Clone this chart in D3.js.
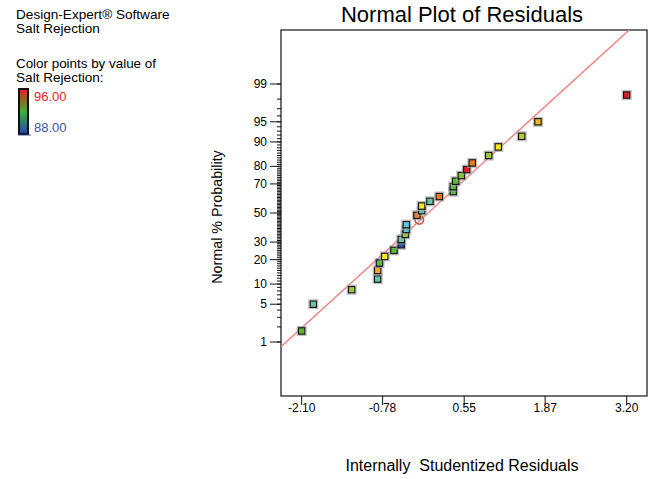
<!DOCTYPE html>
<html>
<head>
<meta charset="utf-8">
<script src="https://cdn.jsdelivr.net/npm/d3@7"></script>
<style>
  body { margin: 0; background: white; }
  text { font-family: "Liberation Sans", Arial, sans-serif; }
</style>
</head>
<body>
<div id="chart"></div>
<script>
// residuals (x) and normal % probability (y) for the 30 runs, ordered by rank
var residuals = [-2.10, -1.91, -1.285, -0.861, -0.861, -0.831, -0.746, -0.595, -0.476, -0.476,
                 -0.41, -0.394, -0.394, -0.182, -0.22, -0.143, -0.143, -0.008, 0.144, 0.372,
                 0.372, 0.411, 0.503, 0.591, 0.682, 0.95, 1.106, 1.488, 1.753, 3.20];
var probabilities = [1.67, 5, 8.33, 11.67, 15, 18.33, 21.67, 25, 28.33, 31.67,
                     35, 38.33, 41.67, 45, 48.33, 51.67, 55, 58.33, 61.67, 65,
                     68.33, 71.67, 75, 78.33, 81.67, 85, 88.33, 91.67, 95, 98.33];
// Salt Rejection value of each run (drives the point colour)
var saltRejection = [91.3, 90.0, 92.3, 90.0, 94.5, 91.3, 93.5, 91.3, 88.0, 90.0,
                     92.3, 89.4, 89.4, 95.5, 95.0, 90.0, 93.5, 90.0, 95.0, 91.2,
                     91.2, 91.3, 92.0, 96.0, 95.0, 92.4, 93.5, 92.6, 94.3, 96.0];
var circledPoint = 13;   // this run is drawn as a hollow circle

var xTicks = [-2.10, -0.78, 0.55, 1.87, 3.20];
var yMajorTicks = [1, 5, 10, 20, 30, 50, 70, 80, 90, 95, 99];
var yMinorTicks = d3.range(1, 100);
var refLine = { mean: -0.04, sd: 0.994 };
var colorMin = 88.00, colorMax = 96.00;

// inverse normal cdf (Acklam)
function probit(p) {
  var a = [-3.969683028665376e+01, 2.209460984245205e+02, -2.759285104469687e+02, 1.383577518672690e+02, -3.066479806614716e+01, 2.506628277459239e+00];
  var b = [-5.447609879822406e+01, 1.615858368580409e+02, -1.556989798598866e+02, 6.680131188771972e+01, -1.328068155288572e+01];
  var c = [-7.784894002430293e-03, -3.223964580411365e-01, -2.400758277161838e+00, -2.549732539343734e+00, 4.374664141464968e+00, 2.938163982698783e+00];
  var d = [7.784695709041462e-03, 3.224671290700398e-01, 2.445134137142996e+00, 3.754408661907416e+00];
  var q, r;
  if (p < 0.02425) {
    q = Math.sqrt(-2 * Math.log(p));
    return (((((c[0]*q+c[1])*q+c[2])*q+c[3])*q+c[4])*q+c[5]) / ((((d[0]*q+d[1])*q+d[2])*q+d[3])*q+1);
  }
  if (p <= 1 - 0.02425) {
    q = p - 0.5; r = q * q;
    return (((((a[0]*r+a[1])*r+a[2])*r+a[3])*r+a[4])*r+a[5])*q / (((((b[0]*r+b[1])*r+b[2])*r+b[3])*r+b[4])*r+1);
  }
  q = Math.sqrt(-2 * Math.log(1 - p));
  return -(((((c[0]*q+c[1])*q+c[2])*q+c[3])*q+c[4])*q+c[5]) / ((((d[0]*q+d[1])*q+d[2])*q+d[3])*q+1);
}

var w = 649, h = 479;
var box = { left: 281, top: 30, right: 647, bottom: 396 };

var svg = d3.select("#chart")
    .append("svg")
    .attr("width", w)
    .attr("height", h);

var x = d3.scaleLinear().domain([-2.437, 3.531]).range([box.left, box.right]);
var z = d3.scaleLinear().domain([-3.3, 3.3]).range([box.bottom, box.top]);
var y = function(p) { return z(probit(p / 100)); };

var color = d3.scaleLinear()
    .domain([88, 89.4, 90, 91.3, 92.4, 93.5, 94.4, 95, 96])
    .range(["#2d4b9f", "#5cc4e2", "#68c3a8", "#5cb83a", "#a2c93a", "#f6e71c", "#f4b11c", "#f07a20", "#e21f26"]);

// header text
svg.append("text").attr("x", 16).attr("y", 19).style("font-size", "13.6px").text("Design-Expert\u00AE Software");
svg.append("text").attr("x", 16).attr("y", 33).style("font-size", "13.6px").text("Salt Rejection");
svg.append("text").attr("x", 16).attr("y", 68).style("font-size", "13.4px").text("Color points by value of");
svg.append("text").attr("x", 16).attr("y", 82).style("font-size", "13.6px").text("Salt Rejection:");

// colour bar
var grad = svg.append("defs").append("linearGradient")
    .attr("id", "bar").attr("x1", 0).attr("y1", 0).attr("x2", 0).attr("y2", 1);
grad.append("stop").attr("offset", "0%").attr("stop-color", "#e3201c");
grad.append("stop").attr("offset", "50%").attr("stop-color", "#3fae36");
grad.append("stop").attr("offset", "100%").attr("stop-color", "#2244b4");
svg.append("rect").attr("x", 19).attr("y", 89).attr("width", 9).attr("height", 45)
    .attr("fill", "url(#bar)").attr("stroke", "#111").attr("stroke-width", 2);
svg.append("line").attr("x1", 18).attr("x2", 31).attr("y1", 135).attr("y2", 135)
    .attr("stroke", "#3a56a6").attr("stroke-width", 1);
svg.append("text").attr("x", 34).attr("y", 101).style("font-size", "13px").attr("fill", "#e8262a").text(colorMax.toFixed(2));
svg.append("text").attr("x", 34).attr("y", 132).style("font-size", "13px").attr("fill", "#3a56a6").text(colorMin.toFixed(2));

// title
svg.append("text").attr("x", 462).attr("y", 22).attr("text-anchor", "middle")
    .style("font-size", "22px").text("Normal Plot of Residuals");

// frame
svg.append("rect")
    .attr("x", box.left).attr("y", box.top)
    .attr("width", box.right - box.left).attr("height", box.bottom - box.top)
    .attr("fill", "none").attr("stroke", "#111").attr("stroke-width", 1.2);

// y ticks
svg.selectAll("line.minor")
    .data(yMinorTicks)
    .enter()
    .append("line")
    .attr("class", "minor")
    .attr("x1", box.left - 4).attr("x2", box.left)
    .attr("y1", function(d) { return y(d); })
    .attr("y2", function(d) { return y(d); })
    .attr("stroke", "#111").attr("stroke-width", 1);

svg.selectAll("line.major")
    .data(yMajorTicks)
    .enter()
    .append("line")
    .attr("class", "major")
    .attr("x1", box.left - 11).attr("x2", box.left)
    .attr("y1", function(d) { return y(d); })
    .attr("y2", function(d) { return y(d); })
    .attr("stroke", "#111").attr("stroke-width", 1);

svg.selectAll("text.ylab")
    .data(yMajorTicks)
    .enter()
    .append("text")
    .attr("class", "ylab")
    .attr("x", box.left - 14)
    .attr("y", function(d) { return y(d) + 4; })
    .attr("text-anchor", "end")
    .style("font-size", "12px")
    .text(function(d) { return d; });

// x ticks
svg.selectAll("line.xtick")
    .data(xTicks)
    .enter()
    .append("line")
    .attr("class", "xtick")
    .attr("x1", function(d) { return x(d); })
    .attr("x2", function(d) { return x(d); })
    .attr("y1", box.bottom).attr("y2", box.bottom + 9)
    .attr("stroke", "#111").attr("stroke-width", 1);

svg.selectAll("text.xlab")
    .data(xTicks)
    .enter()
    .append("text")
    .attr("class", "xlab")
    .attr("x", function(d) { return x(d); })
    .attr("y", 412)
    .attr("text-anchor", "middle")
    .style("font-size", "12px")
    .text(function(d) { return d.toFixed(2); });

// axis titles
svg.append("text").attr("x", 462).attr("y", 471).attr("text-anchor", "middle")
    .style("font-size", "16px")
    .text("Internally\u00A0 Studentized Residuals");
svg.append("text")
    .attr("transform", "translate(222,217) rotate(-90)")
    .attr("text-anchor", "middle")
    .style("font-size", "14.3px")
    .text("Normal % Probability");

// reference line, clipped to the frame
svg.append("clipPath").attr("id", "clip")
    .append("rect")
    .attr("x", box.left).attr("y", box.top)
    .attr("width", box.right - box.left).attr("height", box.bottom - box.top);

var lineEnds = x.domain();
svg.append("path")
    .datum(lineEnds)
    .attr("clip-path", "url(#clip)")
    .attr("fill", "none")
    .attr("stroke", "#f08080")
    .attr("stroke-width", 1.4)
    .attr("d", d3.line()
        .x(function(d) { return x(d); })
        .y(function(d) { return z((d - refLine.mean) / refLine.sd); }));

// points
var pts = residuals.map(function(r, i) {
  return { r: r, p: probabilities[i], s: saltRejection[i], i: i };
});

var g = svg.append("g");
pts.forEach(function(d) {
  var cx = x(d.r), cy = y(d.p);
  if (d.i === circledPoint) {
    g.append("circle").attr("cx", cx).attr("cy", cy).attr("r", 4.2)
        .attr("fill", "none").attr("stroke", "#c75e4a").attr("stroke-width", 1.8);
    return;
  }
  g.append("rect").attr("x", cx - 4.5).attr("y", cy - 4.5).attr("width", 9).attr("height", 9)
      .attr("fill", "none").attr("stroke", "#aaa").attr("stroke-opacity", 0.8).attr("stroke-width", 1);
  g.append("rect").attr("x", cx - 3.2).attr("y", cy - 3.2).attr("width", 6.4).attr("height", 6.4)
      .attr("fill", color(d.s)).attr("stroke", "#161616").attr("stroke-width", 1.2);
});
</script>
</body>
</html>
